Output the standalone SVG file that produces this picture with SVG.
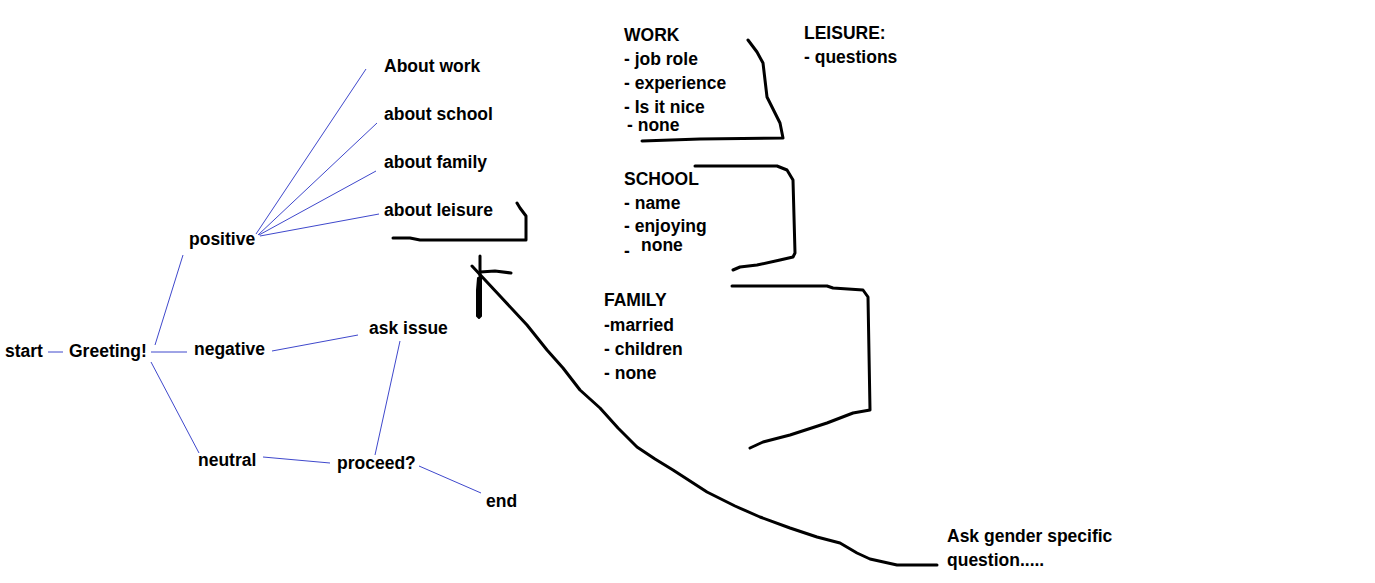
<svg xmlns="http://www.w3.org/2000/svg" width="1375" height="583" viewBox="0 0 1375 583">
<style>
text{font-family:"Liberation Sans",Arial,sans-serif;font-weight:bold;font-size:17.5px;fill:#000}
.c{stroke:#3f48cc;stroke-width:1;fill:none}
.h{stroke:#000;stroke-width:3;fill:none;stroke-linecap:round;stroke-linejoin:round}
</style>
<rect width="1375" height="583" fill="#fff"/>
<g id="connectors">
<line class="c" x1="48" y1="352" x2="63" y2="352"/>
<line class="c" x1="155" y1="345" x2="183" y2="255"/>
<line class="c" x1="151" y1="352" x2="187" y2="352"/>
<line class="c" x1="151" y1="362" x2="199" y2="453"/>
<line class="c" x1="272" y1="351" x2="358" y2="335"/>
<line class="c" x1="263" y1="457" x2="330" y2="463"/>
<line class="c" x1="400" y1="341" x2="375" y2="455"/>
<line class="c" x1="419" y1="466" x2="481" y2="493"/>
<line class="c" x1="256" y1="234" x2="366" y2="69"/>
<line class="c" x1="258" y1="235" x2="377" y2="123"/>
<line class="c" x1="259" y1="235" x2="376" y2="171"/>
<line class="c" x1="260" y1="236" x2="379" y2="214"/>
<path class="h" d="M517,203 L520,208 L526,216 L526,240 L420,240 L410,238 L393,238"/>
<path class="h" d="M472,266 L500,296 L527,325 L547,350 L563,368 L580,390 L600,408 L618,428 L637,447 L655,459 L673,470 L707,492 L735,506 L760,517 L790,528 L817,537 L840,543 L857,553 L870,559 L897,565 L937,565"/>
<path class="h" d="M480,256 L480,282"/>
<path d="M478,278 L481,278 L481,316 L479,318 L477,316 L477,290 Z" fill="#000" stroke="#000" stroke-width="2" stroke-linejoin="round"/>
<path class="h" d="M480,272 L495,271 L511,273"/>
<path class="h" d="M748,40 L757,52 L763,63 L765,80 L767,97 L770,103 L780,123 L783,138 L700,139 L642,141"/>
<path class="h" d="M695,166 L777,166 L787,170 L793,180 L795,253 L793,257 L780,260 L757,265 L740,267 L733,270"/>
<path class="h" d="M732,286 L827,286 L833,288 L863,290 L868,297 L870,410 L853,413 L827,423 L790,435 L763,442 L750,448"/>
</g>
<g id="start"><text x="5" y="357">start</text></g>
<g id="greeting"><text x="69" y="357">Greeting!</text></g>
<g id="positive"><text x="189" y="245">positive</text></g>
<g id="negative"><text x="194" y="355">negative</text></g>
<g id="neutral"><text x="198" y="466">neutral</text></g>
<g id="ask-issue"><text x="369" y="334">ask issue</text></g>
<g id="proceed"><text x="337" y="469">proceed?</text></g>
<g id="end"><text x="486" y="507">end</text></g>
<g id="about-work"><text x="384" y="72">About work</text></g>
<g id="about-school"><text x="384" y="120">about school</text></g>
<g id="about-family"><text x="384" y="168">about family</text></g>
<g id="about-leisure"><text x="384" y="216">about leisure</text></g>
<g id="work">
<text x="624" y="41">WORK</text>
<text x="624" y="65">- job role</text>
<text x="624" y="89">- experience</text>
<text x="624" y="113">- Is it nice</text>
<text x="627" y="131">- none</text>
</g>
<g id="leisure">
<text x="804" y="39">LEISURE:</text>
<text x="804" y="63">- questions</text>
</g>
<g id="school">
<text x="624" y="185">SCHOOL</text>
<text x="624" y="209">- name</text>
<text x="624" y="232">- enjoying</text>
<text x="624" y="257">-</text>
<text x="641" y="251">none</text>
</g>
<g id="family">
<text x="604" y="306">FAMILY</text>
<text x="604" y="331">-married</text>
<text x="604" y="355">- children</text>
<text x="604" y="379">- none</text>
</g>
<g id="ask-gender">
<text x="947" y="542">Ask gender specific</text>
<text x="947" y="566">question.....</text>
</g>
</svg>
